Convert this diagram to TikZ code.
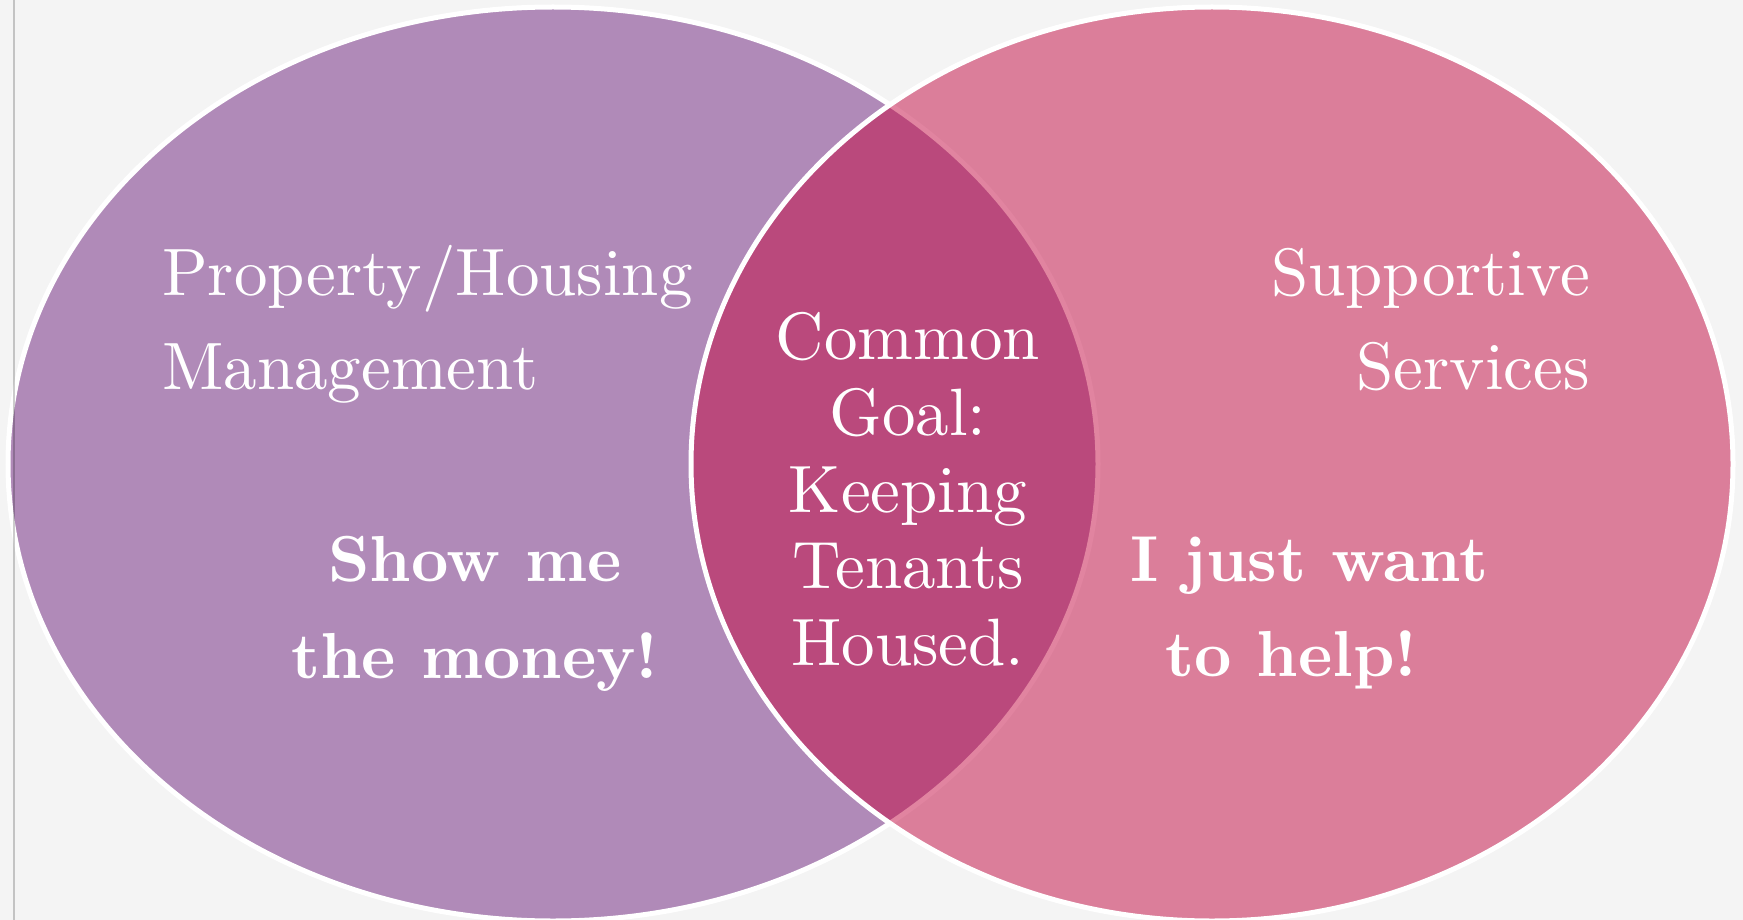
\documentclass[tikz,border=0pt]{standalone}
\usepackage{fontspec}
\newfontfamily\lmten{lmroman10-regular.otf}[BoldFont=lmroman10-bold.otf]
\definecolor{pagebg}{RGB}{244,244,244}
\definecolor{housing}{RGB}{176,138,184}
\definecolor{services}{RGB}{196,10,66}
\definecolor{frameline}{RGB}{0,0,0}
\tikzset{
  bubble/.style={draw=white, line width=5pt},
  plainlabel/.style={text=white, inner sep=0pt, font=\lmten\fontsize{67}{80}\selectfont},
  boldlabel/.style={text=white, inner sep=0pt, font=\lmten\bfseries\fontsize{65}{78}\selectfont},
}
\begin{document}
\begin{tikzpicture}[x=1pt, y=-1pt]
  % page
  \fill[pagebg] (0,0) rectangle (1743,920);
  \useasboundingbox (0,0) rectangle (1743,920);

  % the two circles of the Venn diagram
  \path[bubble, fill=housing] (553,464) ellipse [x radius=545, y radius=457];
  \path[bubble, fill=services, fill opacity=0.5] (1212,464) ellipse [x radius=521, y radius=457];

  % thin margin rule on the left
  \coordinate (ruletop) at (14,0);
  \coordinate (rulebot) at (14,920);
  \draw[frameline, opacity=0.2, line width=1.5pt] (ruletop) -- (rulebot);

  % left circle
  \node[plainlabel, anchor=base west] (ph1) at (162,295) {Property/Housing};
  \node[plainlabel, anchor=base west] (ph2) at (162,389) {Management};
  \node[boldlabel, anchor=base] (sm1) at (475,581) {Show me};
  \node[boldlabel, anchor=base] (sm2) at (475,678) {the money!};

  % right circle
  \node[plainlabel, anchor=base east] (ss1) at (1590,295) {Supportive};
  \node[plainlabel, anchor=base east] (ss2) at (1590,389) {Services};
  \node[boldlabel, anchor=base west] (hp1) at (1130,581) {I just want};
  \node[boldlabel, anchor=base west] (hp2) at (1165,676) {to help!};

  % overlap
  \node[plainlabel, anchor=base] (cg1) at (908,359) {Common};
  \node[plainlabel, anchor=base] (cg2) at (908,435.5) {Goal:};
  \node[plainlabel, anchor=base] (cg3) at (908,512) {Keeping};
  \node[plainlabel, anchor=base] (cg4) at (908,588.5) {Tenants};
  \node[plainlabel, anchor=base] (cg5) at (908,665) {Housed.};
\end{tikzpicture}
\end{document}
